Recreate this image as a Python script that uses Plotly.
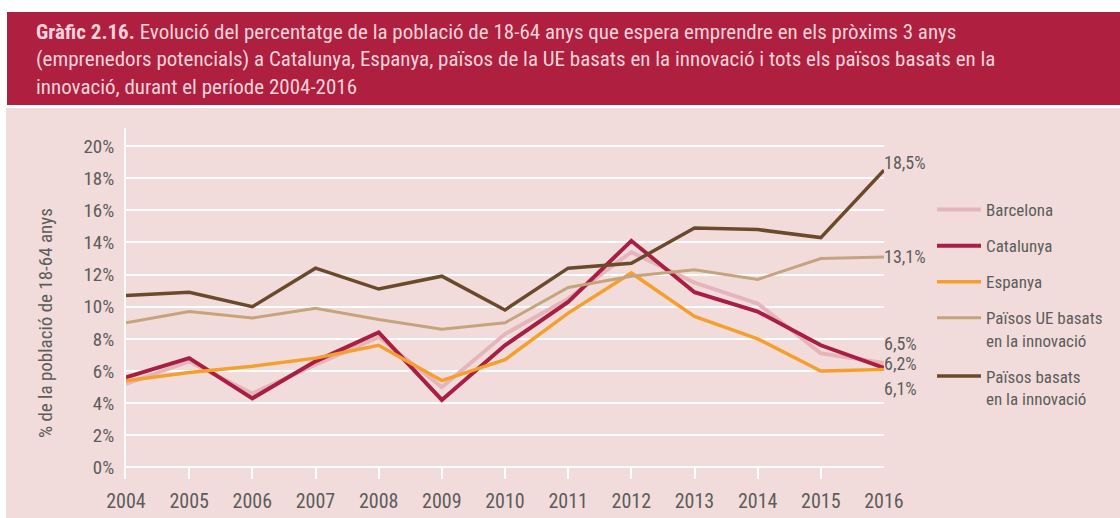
import plotly.graph_objects as go

years = list(range(2004, 2017))
barcelona = [5.2, 6.6, 4.6, 6.4, 8.1, 5.0, 8.3, 10.5, 13.4, 11.5, 10.2, 7.1, 6.5]
catalunya = [5.6, 6.8, 4.3, 6.6, 8.4, 4.2, 7.6, 10.3, 14.1, 10.9, 9.7, 7.6, 6.2]
espanya = [5.4, 5.9, 6.3, 6.8, 7.6, 5.4, 6.7, 9.6, 12.1, 9.4, 8.0, 6.0, 6.1]
ue_innov = [9.0, 9.7, 9.3, 9.9, 9.2, 8.6, 9.0, 11.2, 11.9, 12.3, 11.7, 13.0, 13.1]
paisos_innov = [10.7, 10.9, 10.0, 12.4, 11.1, 11.9, 9.8, 12.4, 12.7, 14.9, 14.8, 14.3, 18.5]

series_names = ["Barcelona", "Catalunya", "Espanya",
                "Països UE basats<br>en la innovació",
                "Països basats<br>en la innovació"]
series_values = [barcelona, catalunya, espanya, ue_innov, paisos_innov]
series_colors = ["#E4B6BB", "#A91F42", "#F5A02E", "#C5A47D", "#6B4A2C"]
series_widths = [4, 4, 3.5, 3, 3.5]

y_ticks = list(range(0, 21, 2))
y_tick_labels = [f"{v}%" for v in y_ticks]

end_labels = ["6,5%", "6,2%", "6,1%", "13,1%", "18,5%"]
end_label_shift = [19, 4, -19, 0, 8]

title_text = ("<b>Gràfic 2.16.</b> Evolució del percentatge de la població de 18-64 anys que espera emprendre en els pròxims 3 anys<br>"
              "(emprenedors potencials) a Catalunya, Espanya, països de la UE basats en la innovació i tots els països basats en la<br>"
              "innovació, durant el període 2004-2016")
y_title = "% de la població de 18-64 anys"

W, H = 1120, 518
ML, MR, MT, MB = 126, 236, 128, 39
PW, PH = W - ML - MR, H - MT - MB
FONT = "Roboto Condensed, DejaVu Sans Condensed, sans-serif"
GRAY = "#5c5c5c"


def px(x):
    return (x - ML) / PW


def py(y):
    return (H - MB - y) / PH


fig = go.Figure()
for name, vals, col, w in zip(series_names, series_values, series_colors, series_widths):
    fig.add_trace(go.Scatter(x=years, y=vals, mode="lines", name=name,
                             line=dict(color=col, width=w), legendgroup=name))

for vals, lab, sh in zip(series_values, end_labels, end_label_shift):
    fig.add_annotation(x=years[-1], y=vals[-1], text=lab, showarrow=False,
                       xanchor="left", yanchor="middle", xshift=-2, yshift=sh,
                       font=dict(family=FONT, size=18, color=GRAY))

# banner and panel
fig.add_shape(type="rect", xref="paper", yref="paper", x0=px(6), x1=px(1125), y0=py(518), y1=py(108),
              fillcolor="#F2DCDB", line_width=0, layer="below")
fig.add_shape(type="rect", xref="paper", yref="paper", x0=px(7), x1=px(1125), y0=py(105), y1=py(12),
              fillcolor="#AF1F3F", line_width=0, layer="below")
fig.add_annotation(xref="paper", yref="paper", x=px(34), y=py(18), text=title_text, showarrow=False,
                   xanchor="left", yanchor="top", align="left",
                   font=dict(family=FONT, size=21, color="#F6D3DA"))
fig.add_annotation(xref="paper", yref="paper", x=px(45), y=py(323), text=y_title, showarrow=False,
                   textangle=-90, xanchor="center", yanchor="middle",
                   font=dict(family=FONT, size=19, color=GRAY))

fig.update_layout(
    width=W, height=H,
    margin=dict(l=ML, r=MR, t=MT, b=MB, autoexpand=False),
    paper_bgcolor="white", plot_bgcolor="rgba(0,0,0,0)",
    font=dict(family=FONT, size=19, color=GRAY),
    showlegend=True,
    legend=dict(x=px(932), y=py(192), xanchor="left", yanchor="top",
                bgcolor="rgba(0,0,0,0)", traceorder="grouped", tracegroupgap=11,
                valign="top", itemwidth=44,
                font=dict(family=FONT, size=17, color=GRAY)),
)
fig.update_xaxes(range=[2004, 2016], tickmode="array", tickvals=years, automargin=False,
                 ticktext=[str(y) for y in years], showgrid=False, zeroline=False,
                 showline=False, ticks="inside", ticklen=11, tickwidth=2, tickcolor="white",
                 ticklabelstandoff=8, tickfont=dict(family=FONT, size=20, color=GRAY))
fig.update_yaxes(range=[-0.72, 21.12], tickmode="array", tickvals=y_ticks, ticktext=y_tick_labels,
                 automargin=False,
                 showgrid=True, gridcolor="white", gridwidth=2, zeroline=False,
                 showline=True, linecolor="white", linewidth=2, ticks="",
                 ticklabelstandoff=6, tickfont=dict(family=FONT, size=19, color=GRAY))

fig.write_html("out.html")
